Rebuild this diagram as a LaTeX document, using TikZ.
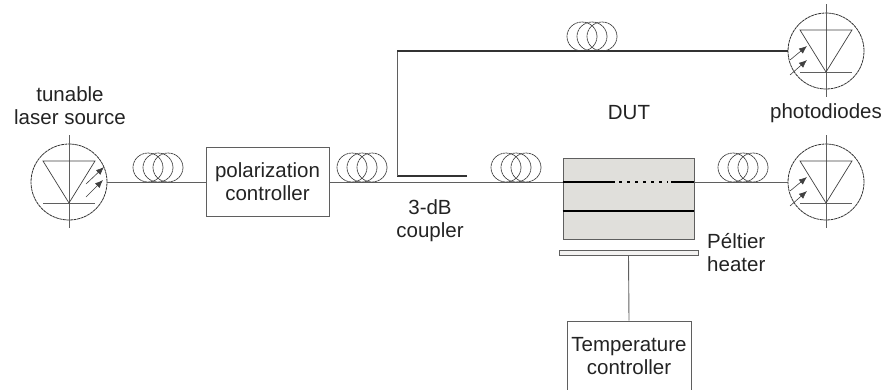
\documentclass[tikz,border=0pt]{standalone}
\usepackage{fontspec}
\setmainfont{Liberation Sans}
\usetikzlibrary{arrows.meta}

\definecolor{cwire}{RGB}{95,95,95}
\definecolor{cchip}{RGB}{224,223,219}
\definecolor{ctext}{RGB}{35,35,35}

\begin{document}
\begin{tikzpicture}[x=1pt,y=-1pt,
        wire/.style={draw=cwire,line width=0.9pt},
        fibre/.style={draw=black!80,line width=1.1pt},
        ring/.style={draw=black!75,line width=0.7pt,dash pattern=on 2.5pt off 0.5pt},
        guide/.style={draw=black,line width=2pt},
        diode/.style={circle,draw=black!80,dash pattern=on 3pt off 0.6pt,line width=0.8pt,inner sep=0pt,minimum size=76pt},
        box/.style={draw=cwire,line width=0.9pt,inner sep=0pt,align=center},
        lab/.style={font=\fontsize{20.5}{23}\selectfont,text=ctext,align=center,inner sep=0pt},
        ray/.style={draw=black!75,line width=0.6pt,-{Latex[length=8pt,width=6.5pt]}}]

      \useasboundingbox (0,0) rectangle (883,389);

      % blocks
      \node[diode] (laser) at (69,182) {};
      \node[diode] (pdtop) at (826,51) {};
      \node[diode] (pdbot) at (826,182) {};
      \node[box,lab,minimum width=123pt,minimum height=69pt] (polctl) at (267.5,182) {polarization\\controller};
      \node[box,fill=cchip,minimum width=131pt,minimum height=81pt] (dut) at (628.5,198.5) {};
      \node[box,fill=cchip!40,minimum width=139pt,minimum height=5pt] (heater) at (628.5,252.5) {};
      \node[box,lab,minimum width=124pt,minimum height=70pt] (tempctl) at (629,356) {Temperature\\controller};

      % fibres
      \coordinate (cplend) at (467,176);
      \coordinate (cplbot) at (397,176);
      \coordinate (cpltop) at (397,51);
      \draw[wire] (laser.east) -- (polctl.west);
      \draw[wire] (polctl.east) -- (polctl.east -| dut.west);
      \draw[wire] (pdbot.west -| dut.east) -- (pdbot.west);
      \draw[wire] (heater.south) -- (tempctl.north);
      \draw[fibre] (cplend) -- (cplbot);
      \draw[wire] (cplbot) -- (cpltop);
      \draw[fibre] (cpltop) -- (pdtop.west);

      % waveguides on the chip
      \draw[guide] (dut.west |- 0,182) -- (615,182);
      \draw[guide,dash pattern=on 2.5pt off 5.5pt] (619,182) -- (668,182);
      \draw[guide] (671,182) -- (dut.east |- 0,182);
      \draw[guide] (dut.west |- 0,211) -- (dut.east |- 0,211);

      % fibre coils
      \foreach \cx/\cy in {158/167.5,362/167.5,516/167.5,592/36.5,743/167.5} {
        \foreach \dx in {-10,0,10}
          \draw[ring] (\cx+\dx,\cy) ellipse (15 and 14.5);
      }

      % diode symbols
      \foreach \cx/\cy in {69/182,826/51,826/182} {
        \draw[wire,line width=0.6pt] (\cx,\cy-47) -- (\cx,\cy+46);
        \draw[wire,line width=0.7pt] (\cx-26,\cy+21) -- (\cx+26,\cy+21);
        \draw[draw=black!75,line width=0.7pt] (\cx-26,\cy-21) -- (\cx+26,\cy-21) -- (\cx,\cy+21) -- cycle;
      }
      \draw[ray] (86,184) -- (104,167);
      \draw[ray] (86,197) -- (103,180);
      \foreach \cy in {51,182} {
        \draw[ray] (790,\cy+9) -- (807,\cy-5);
        \draw[ray] (790,\cy+24) -- (807,\cy+9);
      }

      % labels
      \node[lab] (lbllaser) at (70,105.5) {tunable\\laser source};
      \node[lab] (lblcpl) at (430,221) {3-dB\\coupler};
      \node[lab] (lbldut) at (629,113) {DUT};
      \node[lab] (lblpd) at (826,113) {photodiodes};
      \node[lab,align=left,anchor=west] (lblhtr) at (707,253) {Péltier\\heater};
    \end{tikzpicture}
\end{document}
